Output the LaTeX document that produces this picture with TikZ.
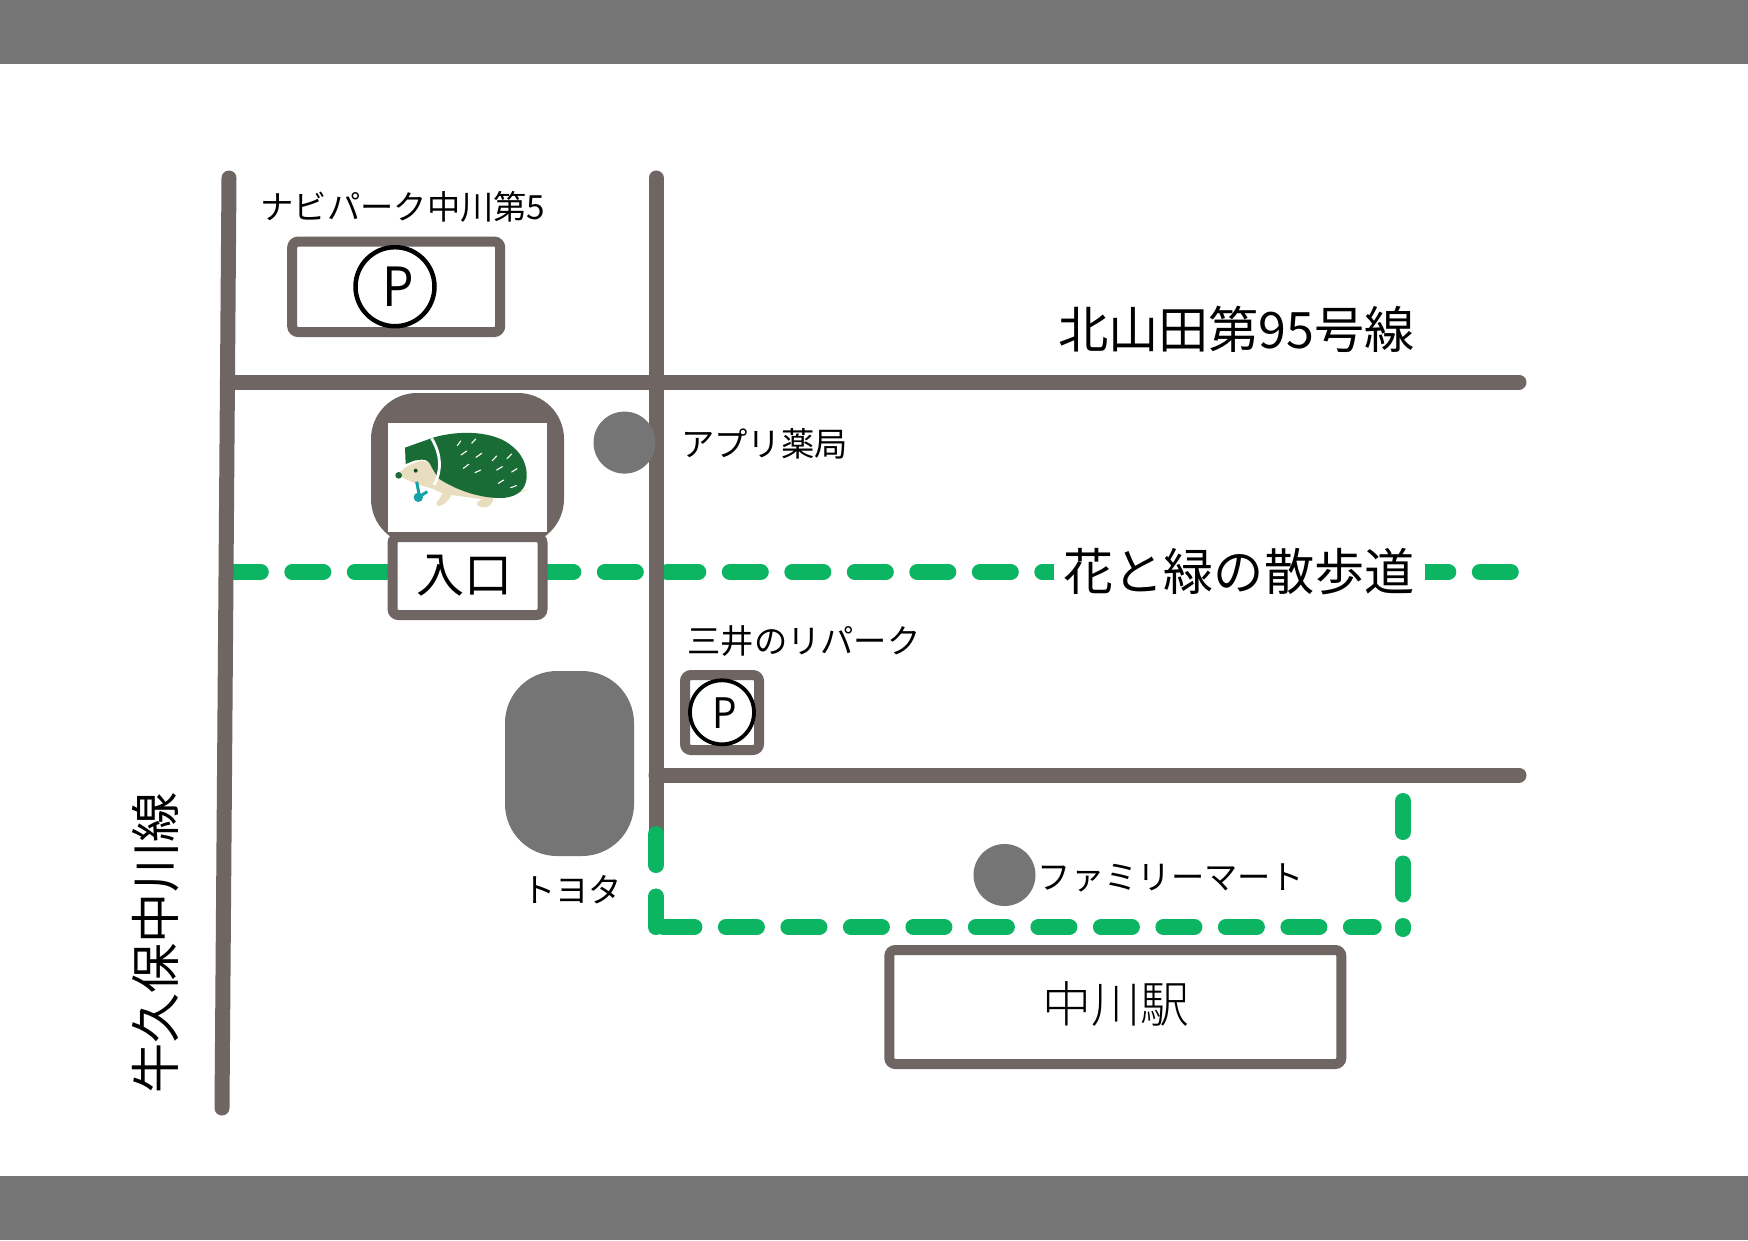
\documentclass[tikz,border=0pt]{standalone}
\usepackage{fontspec}
\setmainfont{Noto Sans CJK JP}
\newfontfamily\pmark[FakeStretch=0.92]{Noto Sans CJK JP}
\newfontfamily\lightcjk{Noto Sans CJK JP Light}
\definecolor{road}{HTML}{6F6563}
\definecolor{band}{HTML}{757575}
\definecolor{walk}{HTML}{0BB562}
\definecolor{hedgegreen}{HTML}{196C35}
\definecolor{hedgebeige}{HTML}{E9DDBF}
\definecolor{hedgeteal}{HTML}{12A3A8}
\tikzset{
  roadline/.style={draw=road,line width=15pt,line cap=round},
  walkline/.style={draw=walk,line width=16pt,line cap=round,dash pattern=on 31pt off 31.5pt},
  framebox/.style={draw=road,fill=white,line width=10pt,rounded corners=6pt},
  spot/.style={circle,fill=band,inner sep=0pt,minimum size=62pt},
  parkmark/.style={circle,draw=black,fill=white,line width=4.5pt,inner sep=0pt},
  lab/.style={inner sep=0pt,font=\fontsize{33.3pt}{33.3pt}\selectfont},
  biglab/.style={inner sep=0pt,font=\fontsize{50.2pt}{50.2pt}\selectfont},
  quill/.style={draw=white,line width=1.1pt,line cap=round}
}
\begin{document}
\begin{tikzpicture}[x=1pt,y=-1pt]
\path[use as bounding box,fill=white] (0,0) rectangle (1748,1240);
\fill[band] (0,0) rectangle (1748,63.5);
\fill[band] (0,1175.5) rectangle (1748,1240);
% named ends
\coordinate (wa) at (229.8,572); \coordinate (wb) at (1510.8,572);
\coordinate (la) at (229,178); \coordinate (lb) at (222,1108);
\coordinate (ma) at (656,178); \coordinate (mb) at (656,850);
\coordinate (ha) at (229,382); \coordinate (hb) at (1519,382);
\coordinate (ka) at (656,775); \coordinate (kb) at (1519,775);
\coordinate (va) at (656,834); \coordinate (vb) at (656,927);
\coordinate (ua) at (663.4,927); \coordinate (ub) at (1373.7,927);
\coordinate (ra) at (1403,801); \coordinate (rb) at (1403,929);
% walking path, upper
\draw[walkline] (wa) -- (wb);
% roads
\draw[roadline] (la) -- (lb);
\draw[roadline] (ma) -- (mb);
\draw[roadline] (ha) -- (hb);
\draw[roadline] (ka) -- (kb);
% walking path, lower
\draw[walkline] (va) -- (vb);
\draw[walkline] (ua) -- (ub);
\draw[walkline] (ra) -- (rb);
% parking 1
\node[framebox,minimum width=208pt,minimum height=90.5pt] (park1) at (396.2,286.8) {};
\node[parkmark,minimum size=79pt] (p1) at (395,286.7) {};
\node[inner sep=0pt,font=\pmark\fontsize{54pt}{54pt}\selectfont] (p1text) at (398.5,287) {P};
\node[lab] (navi) at (403,207) {ナビパーク中川第5};
% parking 2
\node[framebox,minimum width=74pt,minimum height=75pt] (park2) at (722,712.5) {};
\node[parkmark,line width=3.8pt,minimum size=64pt] (p2) at (722,712.3) {};
\node[inner sep=0pt,font=\pmark\fontsize{42pt}{42pt}\selectfont] (p2text) at (725,713.5) {P};
\node[lab] (mitsui) at (804,641) {三井のリパーク};
% building with hedgehog
\fill[road,rounded corners=46pt] (371,393) rectangle (564,545);
\fill[white] (388,423) rectangle (547,532);
\begin{scope}[shift={(360,380)},x=0.33333pt,y=-0.33333pt]
  \fill[hedgebeige] (112,285) .. controls (125,270) and (140,258) .. (160,250)
    .. controls (190,235) and (215,245) .. (235,275) -- (420,345) -- (507,327)
    .. controls (490,335) and (470,340) .. (455,348) -- (400,352)
    .. controls (400,370) and (390,382) .. (370,382) .. controls (355,382) and (345,372) .. (353,365)
    -- (368,358) -- (275,345) .. controls (265,362) and (250,378) .. (235,378)
    .. controls (225,375) and (228,365) .. (238,358) -- (247,340) -- (215,325)
    .. controls (190,320) and (150,305) .. (112,285) -- cycle;
  \fill[hedgegreen] (135,203) -- (222,172) .. controls (300,150) and (405,152) .. (458,200)
    .. controls (497,232) and (505,275) .. (498,305) .. controls (490,338) and (460,354) .. (420,354)
    .. controls (350,354) and (280,325) .. (235,295) -- (215,262)
    .. controls (205,235) and (190,238) .. (175,240) .. controls (160,240) and (145,250) .. (137,252) -- cycle;
  \draw[white,line width=2.8pt] (215,175) .. controls (245,225) and (245,275) .. (222,315);
  \fill[hedgegreen] (116,286) circle[radius=10];
  \fill[hedgegreen!70!black] (167,272) circle[radius=6];
  \draw[hedgeteal,line width=3pt] (170,305) -- (178,347);
  \draw[hedgeteal,line width=3pt] (178,350) -- (202,335);
  \fill[hedgeteal] (175,352) circle[radius=14];
  \draw[quill] (292,197) -- (302,183);
  \draw[quill] (335,190) -- (347,177);
  \draw[quill] (303,225) -- (320,213);
  \draw[quill] (348,232) -- (365,220);
  \draw[quill] (397,242) -- (410,228);
  \draw[quill] (441,236) -- (455,222);
  \draw[quill] (310,265) -- (326,253);
  \draw[quill] (345,278) -- (362,270);
  \draw[quill] (410,270) -- (427,260);
  \draw[quill] (455,276) -- (471,266);
  \draw[quill] (415,310) -- (431,300);
  \draw[quill] (452,323) -- (469,317);
\end{scope}
% entrance
\node[framebox,minimum width=150pt,minimum height=78pt] (entry) at (467.5,576) {};
\node[inner sep=0pt,font=\fontsize{48pt}{48pt}\selectfont] (entrytext) at (464,576) {入口};
% toyota
\fill[band,rounded corners=52pt] (505,671) rectangle (634,856);
\node[lab] (toyota) at (572,890) {トヨタ};
% spots
\node[spot] (apuri) at (624.5,442.6) {};
\node[lab] (apuritext) at (764.5,444) {アプリ薬局};
\node[spot] (fami) at (1004.5,875) {};
\node[lab] (famitext) at (1171,878) {ファミリーマート};
% station
\node[framebox,minimum width=452pt,minimum height=114pt] (station) at (1115.3,1007) {};
\node[inner sep=0pt,font=\lightcjk\fontsize{49pt}{49pt}\selectfont] (stationtext) at (1116,1004) {中川駅};
% big labels
\node[biglab] (north) at (1236.5,329) {北山田第95号線};
\node[biglab,fill=white,minimum width=371pt,minimum height=60pt] (walktext) at (1239,572) {花と緑の散歩道};
\node[biglab,rotate=90] (west) at (156,943) {牛久保中川線};
\end{tikzpicture}
\end{document}
